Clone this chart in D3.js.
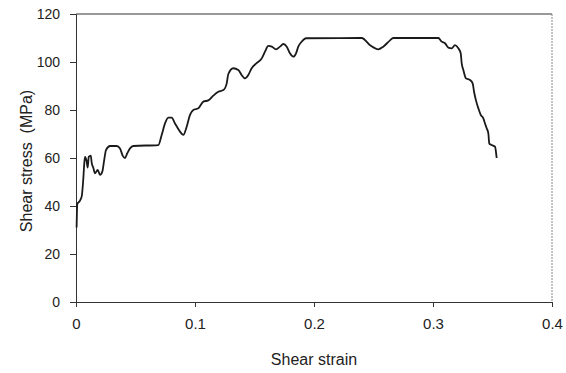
<!DOCTYPE html>
<html>
<head>
<meta charset="utf-8">
<script src="https://cdn.jsdelivr.net/npm/d3@7"></script>
<style>
  body { margin: 0; background: #fff; }
  svg { font-family: "Liberation Sans", Arial, sans-serif; }
</style>
</head>
<body>
<svg id="chart" width="566" height="373"></svg>
<script>
// shear strain (x) and shear stress in MPa (y)
const strain = [
  0.0005, 0.0008, 0.0012, 0.003, 0.0048, 0.0061, 0.007, 0.0076, 0.009, 0.0098,
  0.0107, 0.0124, 0.0132, 0.0145, 0.016, 0.0182, 0.0202, 0.0221, 0.0235, 0.0252,
  0.0286, 0.0342, 0.037, 0.0392, 0.0412, 0.0431, 0.0454, 0.0482, 0.0692, 0.072,
  0.0748, 0.0776, 0.0804, 0.0832, 0.0874, 0.0902, 0.093, 0.0958, 0.0986, 0.1028,
  0.107, 0.1112, 0.1154, 0.1196, 0.1238, 0.1266, 0.128, 0.1322, 0.1364, 0.1392,
  0.142, 0.1448, 0.1476, 0.1518, 0.1561, 0.1588, 0.1616, 0.1645, 0.1681, 0.1714,
  0.1742, 0.1771, 0.1798, 0.1826, 0.1849, 0.1868, 0.1897, 0.1933, 0.2387, 0.2401,
  0.2471, 0.254, 0.2582, 0.2639, 0.2666, 0.3045, 0.3073, 0.3101, 0.3129, 0.3157,
  0.3185, 0.3213, 0.3233, 0.3241, 0.3255, 0.3277, 0.3311, 0.3334, 0.3345, 0.3361,
  0.3381, 0.3401, 0.3423, 0.3437, 0.3451, 0.3465, 0.3473, 0.3493, 0.3521, 0.3529,
  0.3535
]
const stress = [
  31, 38, 41, 42, 44, 51, 58, 60.5, 58.5, 56,
  60.5, 61, 58, 56, 53.6, 55, 53, 54.3, 58.5, 63.3,
  65, 65, 64, 61, 60, 62, 64, 65, 65.4, 69.6,
  74.4, 76.8, 76.8, 74.4, 71, 69.6, 73, 78, 80, 80.7,
  83.5, 84, 86, 87.6, 88.3, 91, 95, 97.4, 96.7, 94.6,
  93.2, 94.6, 97.4, 99.5, 101.5, 104.3, 106.7, 106.4, 105.3, 106.4,
  107.5, 106.4, 103.6, 102.2, 103.6, 106.4, 108.5, 109.9, 110, 110,
  107, 105.3, 106.4, 109, 110, 110, 108.5, 107.8, 106, 105.7,
  107, 105.7, 103.6, 99.5, 96.7, 93.2, 92.5, 91, 87.6, 84,
  80.7, 78, 76.5, 74.4, 72.4, 70.3, 66, 65.4, 64.7, 62.6,
  60
]
const xTicks = [0, 0.1, 0.2, 0.3, 0.4]
const yTicks = [0, 20, 40, 60, 80, 100, 120]

const margin = {top: 14, right: 14, bottom: 71, left: 76}
const width = 566 - margin.left - margin.right
const height = 373 - margin.top - margin.bottom

const svg = d3.select('#chart')
const g = svg.append('g').attr('transform', `translate(${margin.left},${margin.top})`)

const x = d3.scaleLinear().domain([0, 0.4]).range([0, width])
const y = d3.scaleLinear().domain([0, 120]).range([height, 0])

// frame: top and right edges
g.append('line').attr('x1', 0).attr('x2', width).attr('y1', 0).attr('y2', 0)
  .attr('stroke', '#333').attr('stroke-width', 1)
g.append('line').attr('x1', width).attr('x2', width).attr('y1', 0).attr('y2', height)
  .attr('stroke', '#888').attr('stroke-width', 1).attr('stroke-dasharray', '2,1')

// x axis
const xAxis = g.append('g')
  .attr('transform', `translate(0,${height})`)
  .call(d3.axisBottom(x).tickValues(xTicks).tickFormat(d3.format('')).tickSizeOuter(0).tickSize(5))
xAxis.selectAll('text').attr('font-size', 15).attr('fill', '#222').attr('dy', '1.25em')

// y axis
const yAxis = g.append('g')
  .call(d3.axisLeft(y).tickValues(yTicks).tickSizeOuter(0).tickSize(6))
yAxis.selectAll('text').attr('font-size', 14).attr('fill', '#222').attr('x', -16)

svg.selectAll('.domain').attr('stroke', '#333')
svg.selectAll('.tick line').attr('stroke', '#333')

// axis titles
svg.append('text')
  .attr('x', margin.left + width / 2).attr('y', 365)
  .attr('text-anchor', 'middle').attr('font-size', 16).attr('fill', '#222')
  .text('Shear strain')
svg.append('text')
  .attr('transform', `translate(32,${margin.top + height / 2 + 3}) rotate(-90)`)
  .attr('text-anchor', 'middle').attr('font-size', 16).attr('fill', '#222')
  .attr('xml:space', 'preserve')
  .text('Shear stress  (MPa)')

// the curve
const points = strain.map((s, i) => [s, stress[i]])
const line = d3.line().x(d => x(d[0])).y(d => y(d[1])).curve(d3.curveMonotoneX)
g.append('path')
  .attr('d', line(points))
  .attr('fill', 'none')
  .attr('stroke', '#1a1a1a')
  .attr('stroke-width', 1.8)
  .attr('stroke-linejoin', 'round')
</script>
</body>
</html>
